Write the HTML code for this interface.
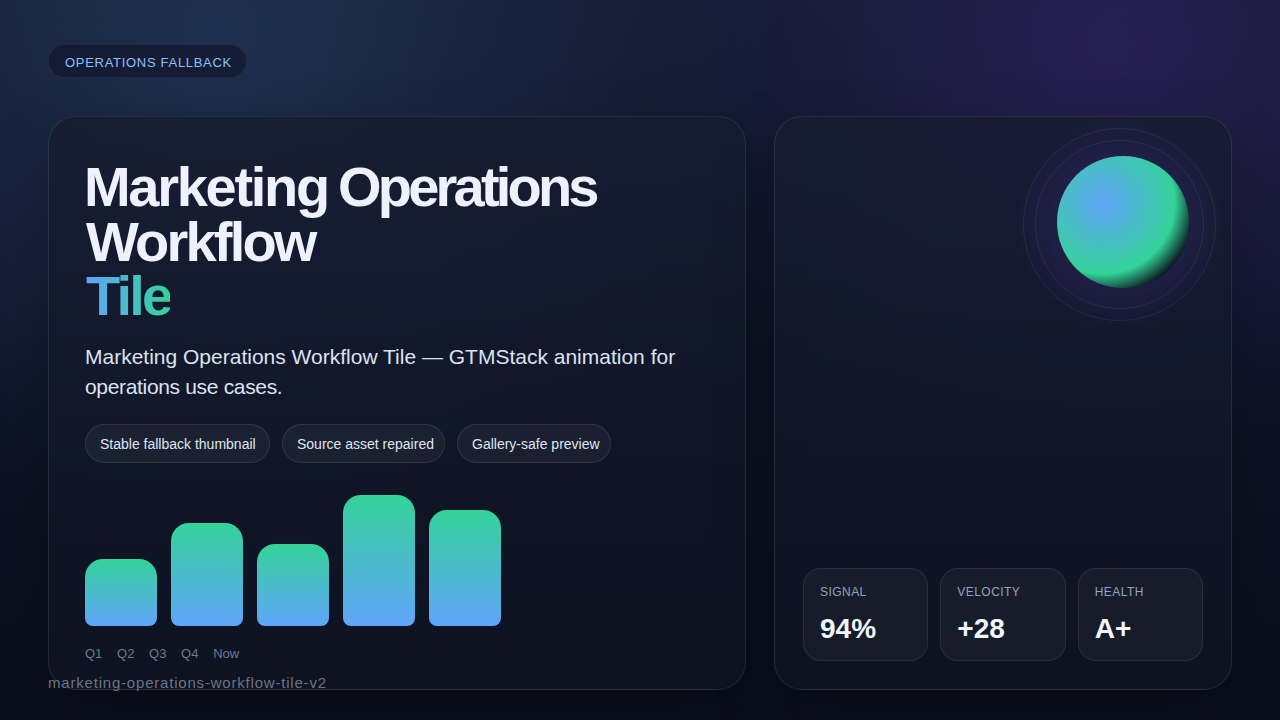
<!DOCTYPE html>
<html>
<head>
<meta charset="utf-8">
<style>
*{box-sizing:border-box;margin:0;padding:0}
html,body{width:1280px;height:720px;overflow:hidden}
body{
  font-family:"Liberation Sans",sans-serif;
  position:relative;
  background:
    radial-gradient(560px 480px at 220px 40px, rgba(70,110,180,0.26), rgba(70,110,180,0) 100%),
    radial-gradient(470px 400px at 1110px 50px, rgba(124,58,237,0.2), rgba(124,58,237,0) 100%),
    linear-gradient(180deg,#121a2d 0%,#0f1527 40%,#0b1020 80%,#0a0e1b 100%);
}
.pill{position:absolute;left:48px;top:44px;width:199px;height:34px;border-radius:17px;
  background:rgba(14,20,38,0.62);border:1px solid rgba(255,255,255,0.06);
  color:#8cc0fb;font-size:13px;letter-spacing:0.7px;line-height:35px;padding-left:16px;white-space:nowrap}
.card{position:absolute;top:116px;height:574px;border-radius:28px;border:1px solid rgba(255,255,255,0.09);box-shadow:0 24px 60px rgba(0,0,0,0.25);
  background:linear-gradient(180deg,rgba(22,28,48,0.8),rgba(15,20,35,0.8))}
.c1{left:48px;width:698px}
.c2{left:774px;width:458px}
.title{position:absolute;left:35px;top:43px;color:#eef2ff;font-weight:bold;font-size:56px;line-height:54.6px;letter-spacing:-3.3px;word-spacing:-2px;white-space:nowrap}
.tile{background:linear-gradient(90deg,#60a5fa,#34d399);-webkit-background-clip:text;background-clip:text;color:transparent;display:inline-block}
.desc{position:absolute;left:36px;top:225px;width:660px;white-space:nowrap;color:#dbe3f1;font-size:21px;line-height:30.4px}
.chips{position:absolute;left:36px;top:307px;display:flex;gap:12px}
.chip{height:39px;border-radius:20px;border:1px solid rgba(255,255,255,0.09);background:rgba(255,255,255,0.045);
  color:#dfe6f2;font-size:14px;line-height:39px;padding:0 0 0 14px;white-space:nowrap}
.bars{position:absolute;left:36px;top:377px;width:420px;height:132px;display:flex;align-items:flex-end;gap:14px}
.bar{width:72px;border-radius:18px 18px 8px 8px;background:linear-gradient(180deg,#34d399,#60a5fa)}
.labels{position:absolute;left:36px;top:529px;display:flex;gap:14.7px;color:#6b7a92;font-size:13px}
.slug{position:absolute;left:48px;top:673.5px;color:#6b7587;font-size:15px;letter-spacing:0.8px;white-space:nowrap}
.ring{position:absolute;border-radius:50%;border:1px solid rgba(255,255,255,0.07)}
.glow{position:absolute;border-radius:50%;background:radial-gradient(circle 104px at center,rgba(75,48,160,0.23) 0%,rgba(75,48,160,0.18) 66%,rgba(75,48,160,0.06) 90%,rgba(75,48,160,0) 100%)}
.orb{position:absolute;left:282px;top:39px;width:132px;height:132px;border-radius:50%;
  background:radial-gradient(circle at 35% 35%,#60a5fa 0%,#34d399 59%,#050812 79%)}
.metrics{position:absolute;left:28px;top:451px;display:flex;gap:12px}
.m{width:125.33px;height:93px;border-radius:18px;border:1px solid rgba(255,255,255,0.08);background:rgba(255,255,255,0.035);padding:0 16px;position:relative}
.ml{position:absolute;left:16px;top:16px;color:#94a3b8;font-size:12px;letter-spacing:0.45px}
.mv{position:absolute;left:16px;top:44px;color:#f1f5ff;font-size:28px;font-weight:bold}
</style>
</head>
<body>
<div class="pill">OPERATIONS FALLBACK</div>
<div class="card c1">
  <div class="title"><span style="letter-spacing:-2.3px">Marketing</span> <span style="letter-spacing:-3.8px">Operations</span><br><span style="letter-spacing:-2.8px;position:relative;left:2px">Workflow</span><br><span class="tile" style="letter-spacing:-2.8px;position:relative;left:2px">Tile</span></div>
  <div class="desc">Marketing Operations Workflow Tile — GTMStack animation for<br><span style="letter-spacing:-0.33px">operations use cases.</span></div>
  <div class="chips">
    <div class="chip" style="width:185px">Stable fallback thumbnail</div>
    <div class="chip" style="width:163px">Source asset repaired</div>
    <div class="chip" style="width:154px">Gallery-safe preview</div>
  </div>
  <div class="bars">
    <div class="bar" style="height:67px"></div>
    <div class="bar" style="height:103px"></div>
    <div class="bar" style="height:82px"></div>
    <div class="bar" style="height:131px"></div>
    <div class="bar" style="height:116px"></div>
  </div>
  <div class="labels"><span>Q1</span><span>Q2</span><span>Q3</span><span>Q4</span><span>Now</span></div>
</div>
<div class="card c2">
  <div class="glow" style="left:227px;top:-10px;width:236px;height:236px"></div>
  <div class="ring" style="left:248px;top:11px;width:193px;height:193px"></div>
  <div class="ring" style="left:260px;top:23px;width:169px;height:169px"></div>
  <div class="orb"></div>
  <div class="metrics">
    <div class="m"><div class="ml">SIGNAL</div><div class="mv">94%</div></div>
    <div class="m"><div class="ml">VELOCITY</div><div class="mv">+28</div></div>
    <div class="m"><div class="ml">HEALTH</div><div class="mv">A+</div></div>
  </div>
</div>
<div class="slug">marketing-operations-workflow-tile-v2</div>
</body>
</html>
